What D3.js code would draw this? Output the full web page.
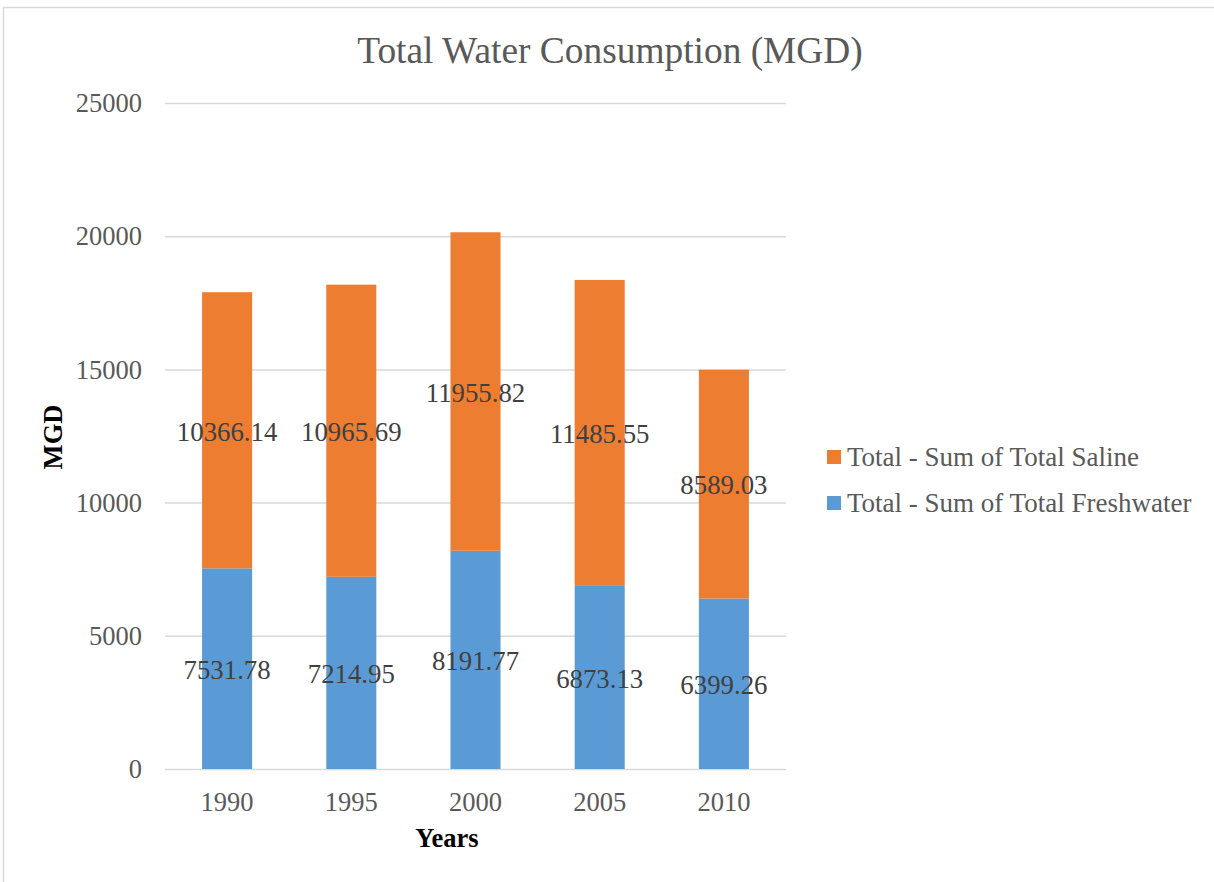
<!DOCTYPE html>
<html><head><meta charset="utf-8">
<script src="https://cdn.jsdelivr.net/npm/d3@7"></script>
<style>html,body{margin:0;padding:0;background:#fff;overflow:hidden}</style>
</head><body>
<svg id="c" width="1214" height="882"></svg>
<script>
const years = ["1990","1995","2000","2005","2010"];
const freshwater = [7531.78, 7214.95, 8191.77, 6873.13, 6399.26];
const saline = [10366.14, 10965.69, 11955.82, 11485.55, 8589.03];
const seriesNames = ["Total - Sum of Total Saline", "Total - Sum of Total Freshwater"];
const yTicks = [0, 5000, 10000, 15000, 20000, 25000];

const FONT = "'Liberation Serif','Times New Roman',serif";
const svg = d3.select("#c");

// outer border
svg.append("path").attr("d","M3.5,900 V7.5 H1300").attr("fill","none").attr("stroke","#d9d9d9").attr("stroke-width",1.5);

const L = 165, R = 786, T = 103, B = 769;
const x = d3.scaleBand().domain(years).range([L, R]).paddingInner(0.597).paddingOuter(0.2985);
const y = d3.scaleLinear().domain([0, 25000]).range([B, T]);

// grid
svg.append("g").selectAll("line").data(yTicks).join("line")
  .attr("x1", L).attr("x2", R).attr("y1", d => y(d)+0.5).attr("y2", d => y(d)+0.5)
  .attr("stroke", "#d9d9d9").attr("stroke-width", 1.5);

// y tick labels
const yAxis = d3.axisLeft(y).tickValues(yTicks).tickSize(0).tickPadding(0).tickFormat(d3.format("d"));
const ya = svg.append("g").attr("transform", `translate(142,0)`).call(yAxis);
ya.select(".domain").remove();
ya.selectAll("text").attr("font-family", FONT).attr("font-size", 26.5).attr("fill", "#595959").attr("dy","0.33em");

// x tick labels
const xAxis = d3.axisBottom(x).tickSize(0).tickPadding(0);
const xa = svg.append("g").attr("transform", `translate(0,${B})`).call(xAxis);
xa.select(".domain").remove();
xa.selectAll("text").attr("font-family", FONT).attr("font-size", 26.5).attr("fill", "#595959").attr("y", 42).attr("dy", 0);

// stacked data
const rows = years.map((yr, i) => ({year: yr, fresh: freshwater[i], saline: saline[i]}));
const stack = d3.stack().keys(["fresh", "saline"])(rows);
const colors = {fresh: "#5b9bd5", saline: "#ed7d31"};

const g = svg.append("g");
stack.forEach(layer => {
  g.selectAll(null).data(layer).join("rect")
    .attr("x", d => x(d.data.year))
    .attr("width", x.bandwidth())
    .attr("y", d => y(d[1]))
    .attr("height", d => y(d[0]) - y(d[1]))
    .attr("fill", colors[layer.key]);
});
stack.forEach(layer => {
  g.selectAll(null).data(layer).join("text")
    .attr("x", d => x(d.data.year) + x.bandwidth()/2)
    .attr("y", d => y((d[0] + d[1]) / 2) + 1.5)
    .attr("dy", "0.33em")
    .attr("text-anchor", "middle")
    .attr("font-family", FONT).attr("font-size", 26.8).attr("fill", "#404040")
    .text(d => d.data[layer.key].toFixed(2));
});

// title
svg.append("text").attr("x", 610).attr("y", 63).attr("text-anchor", "middle")
  .attr("font-family", FONT).attr("font-size", 37.4).attr("fill", "#595959")
  .text("Total Water Consumption (MGD)");

// axis titles
svg.append("text").attr("transform", "translate(62,437) rotate(-90)").attr("text-anchor", "middle")
  .attr("font-family", FONT).attr("font-size", 26.5).attr("font-weight", "bold").attr("fill", "#000")
  .text("MGD");
svg.append("text").attr("x", 447).attr("y", 847).attr("text-anchor", "middle")
  .attr("font-family", FONT).attr("font-size", 26.5).attr("font-weight", "bold").attr("fill", "#000")
  .text("Years");

// legend
const leg = svg.append("g");
const legColors = [colors.saline, colors.fresh];
seriesNames.forEach((name, i) => {
  const cy = 457 + i * 46;
  leg.append("rect").attr("x", 827).attr("y", cy - 7).attr("width", 14).attr("height", 14).attr("fill", legColors[i]);
  leg.append("text").attr("x", 847).attr("y", cy).attr("dy", "0.33em")
    .attr("font-family", FONT).attr("font-size", 27).attr("fill", "#595959").text(name);
});
</script>
</body></html>
